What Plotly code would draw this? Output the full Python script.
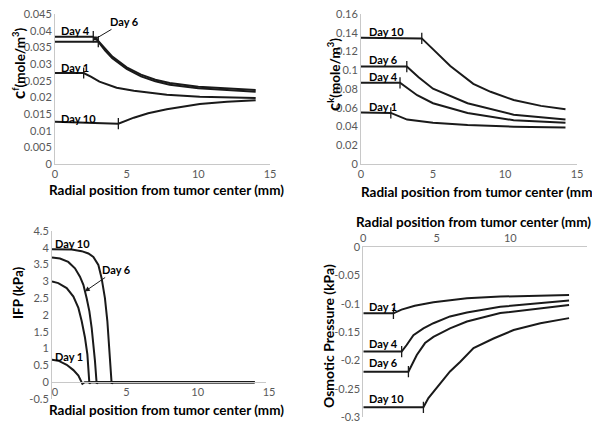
import plotly.graph_objects as go

# ---------------- data ----------------
days = ["Day 1", "Day 4", "Day 6", "Day 10"]

# Panel A: c^f (mole/m^3)
cf_x = {
    "Day 1": [0, 2.0, 2.5, 3.1, 4.3, 5.5, 7.8, 10.1, 14.0],
    "Day 4": [0, 2.67, 3.0, 3.5, 4.0, 5.0, 6.0, 7.0, 8.0, 10.0, 12.0, 14.0],
    "Day 6": [0, 3.02, 3.5, 4.0, 5.0, 6.0, 7.0, 8.0, 10.0, 12.0, 14.0],
    "Day 10": [0, 4.42, 5.5, 6.5, 7.8, 10.1, 12.0, 14.0],
}
cf_y = {
    "Day 1": [0.0273, 0.0273, 0.0262, 0.0247, 0.0229, 0.0220, 0.0208, 0.0202, 0.0198],
    "Day 4": [0.0382, 0.0382, 0.0370, 0.0345, 0.0322, 0.0290, 0.0268, 0.0253, 0.0243, 0.0232, 0.0226, 0.0222],
    "Day 6": [0.0367, 0.0367, 0.0340, 0.0317, 0.0285, 0.0263, 0.0248, 0.0238, 0.0227, 0.0221, 0.0217],
    "Day 10": [0.0127, 0.0121, 0.0139, 0.0152, 0.0164, 0.0180, 0.0187, 0.0191],
}
cf_edge = {"Day 1": 2.0, "Day 4": 2.67, "Day 6": 3.02, "Day 10": 4.42}

# Panel B: c^k (mole/m^3)
ck_x = {
    "Day 1": [0, 2.07, 3.2, 5.0, 7.4, 10.6, 14.2],
    "Day 4": [0, 2.71, 3.9, 5.0, 7.4, 10.6, 14.2],
    "Day 6": [0, 3.18, 4.0, 5.0, 7.4, 10.6, 14.2],
    "Day 10": [0, 4.22, 5.03, 6.2, 7.8, 9.0, 10.6, 12.5, 14.2],
}
ck_y = {
    "Day 1": [0.0550, 0.0545, 0.0474, 0.0440, 0.0416, 0.0398, 0.0388],
    "Day 4": [0.0866, 0.0866, 0.0734, 0.0648, 0.0544, 0.0467, 0.0440],
    "Day 6": [0.1039, 0.1039, 0.0925, 0.0803, 0.0648, 0.0526, 0.0474],
    "Day 10": [0.1347, 0.1340, 0.1220, 0.1046, 0.0855, 0.0770, 0.0682, 0.0620, 0.0585],
}
ck_edge = {"Day 1": 2.07, "Day 4": 2.71, "Day 6": 3.18, "Day 10": 4.22}

# Panel C: IFP (kPa)
ifp_x = {
    "Day 1": [0, 0.44, 1.03, 1.5, 1.85, 2.03, 2.13, 2.3, 14.2],
    "Day 4": [0, 0.44, 1.03, 1.5, 1.85, 2.08, 2.31, 2.48, 2.62, 2.75, 14.2],
    "Day 6": [0, 0.56, 1.14, 1.61, 1.96, 2.2, 2.43, 2.62, 2.78, 2.9, 3.01, 3.13, 3.25, 14.2],
    "Day 10": [0, 1.38, 2.08, 2.55, 2.9, 3.25, 3.48, 3.71, 3.88, 4.02, 4.14, 4.18, 4.3, 14.2],
}
ifp_y = {
    "Day 1": [0.67, 0.64, 0.52, 0.36, 0.20, 0.05, -0.05, 0, 0],
    "Day 4": [3.0, 2.95, 2.80, 2.55, 2.21, 1.82, 1.33, 0.83, -0.04, 0, 0],
    "Day 6": [3.71, 3.68, 3.58, 3.39, 3.14, 2.90, 2.50, 2.11, 1.62, 1.13, 0.64, -0.04, 0, 0],
    "Day 10": [3.96, 3.95, 3.90, 3.83, 3.73, 3.49, 3.09, 2.50, 1.82, 1.03, 0.34, -0.04, 0, 0],
}

# Panel D: Osmotic pressure (kPa)
op_x = {
    "Day 1": [0, 2.05, 2.6, 3.5, 4.77, 7.05, 9.32, 14.0],
    "Day 4": [0, 2.61, 2.95, 3.41, 4.09, 4.77, 5.9, 7.05, 9.32, 11.6, 14.0],
    "Day 6": [0, 3.07, 3.41, 3.64, 4.2, 4.77, 5.9, 7.05, 9.32, 11.6, 14.0],
    "Day 10": [0, 4.09, 4.43, 4.77, 5.34, 5.9, 6.6, 7.5, 8.86, 10.23, 12.05, 14.0],
}
op_y = {
    "Day 1": [-0.1165, -0.1165, -0.110, -0.103, -0.097, -0.090, -0.087, -0.084],
    "Day 4": [-0.1841, -0.1841, -0.1724, -0.155, -0.143, -0.134, -0.122, -0.115, -0.105, -0.099, -0.094],
    "Day 6": [-0.2194, -0.2194, -0.202, -0.190, -0.169, -0.158, -0.143, -0.131, -0.116, -0.109, -0.102],
    "Day 10": [-0.2824, -0.2824, -0.266, -0.255, -0.237, -0.219, -0.202, -0.178, -0.161, -0.146, -0.134, -0.125],
}
op_edge = {"Day 1": 2.05, "Day 4": 2.61, "Day 6": 3.07, "Day 10": 4.09}

x_title = "Radial position from tumor center (mm)"
cf_ticks = [0, 0.005, 0.01, 0.015, 0.02, 0.025, 0.03, 0.035, 0.04, 0.045]
cf_ticktext = ["0", "0.005", "0.01", "0.015", "0.02", "0.025", "0.03", "0.035", "0.04", "0.045"]
ck_ticks = [0, 0.02, 0.04, 0.06, 0.08, 0.1, 0.12, 0.14, 0.16]
ck_ticktext = ["0", "0.02", "0.04", "0.06", "0.08", "0.1", "0.12", "0.14", "0.16"]
ifp_ticks = [-0.5, 0, 0.5, 1, 1.5, 2, 2.5, 3, 3.5, 4, 4.5]
ifp_ticktext = ["-0.5", "0", "0.5", "1", "1.5", "2", "2.5", "3", "3.5", "4", "4.5"]
op_ticks = [0, -0.05, -0.1, -0.15, -0.2, -0.25, -0.3]
op_ticktext = ["0", "-0.05", "-0.1", "-0.15", "-0.2", "-0.25", "-0.3"]
x_ticks = [0, 5, 10, 15]
op_xticks = [0, 5, 10]

# ---------------- figure ----------------
LINE = "#1a1a1a"
FONT = "Lato"
TICKC = "#595959"
AXC = "#c8c8c8"

fig = go.Figure()


def add_panel(xs, ys, edges, xa, ya):
    for d in days:
        fig.add_trace(go.Scatter(x=xs[d], y=ys[d], mode="lines", xaxis=xa, yaxis=ya,
                                 line=dict(color=LINE, width=2), showlegend=False, hoverinfo="skip"))
        if edges is not None:
            i = xs[d].index(edges[d])
            fig.add_trace(go.Scatter(x=[xs[d][i]], y=[ys[d][i]], mode="markers", xaxis=xa, yaxis=ya,
                                     marker=dict(symbol="line-ns-open", size=8, color=LINE,
                                                 line=dict(color=LINE, width=1.3)),
                                     showlegend=False, hoverinfo="skip"))


add_panel(cf_x, cf_y, cf_edge, "x", "y")
add_panel(ck_x, ck_y, ck_edge, "x2", "y2")
add_panel(ifp_x, ifp_y, None, "x3", "y3")
add_panel(op_x, op_y, op_edge, "x4", "y4")

# the page has an 8px body margin: the figure starts at (8, 8) and runs to the window edges
OFF = 8
W, H = 600 - OFF, 429 - OFF


def px(v):
    return (v - OFF) / W


def py(v):
    return 1 - (v - OFF) / H


tickfont = dict(family=FONT, size=11, color=TICKC)
common_x = dict(showgrid=False, zeroline=False, showline=True, linecolor=AXC, linewidth=1,
                ticks="", tickfont=tickfont, fixedrange=True, automargin=False,
                ticklabeloverflow="allow")
common_y = dict(showgrid=False, zeroline=False, showline=True, linecolor=AXC, linewidth=1,
                ticks="", tickfont=tickfont, fixedrange=True, automargin=False,
                ticklabeloverflow="allow")

ifp_domain = [py(399), py(231)]
ifp_zero_pos = ifp_domain[0] + (0 - (-0.5)) / 5.0 * (ifp_domain[1] - ifp_domain[0])

fig.update_layout(
    width=W, height=H, margin=dict(l=0, r=0, t=0, b=0, autoexpand=False),
    paper_bgcolor="white", plot_bgcolor="white",
    font=dict(family=FONT, color="#000000"),
    xaxis=dict(common_x, domain=[px(55), px(270)], range=[0, 15], tickvals=x_ticks, anchor="y"),
    yaxis=dict(common_y, domain=[py(164), py(14)], range=[0, 0.045], tickvals=cf_ticks,
               ticktext=cf_ticktext, anchor="x"),
    xaxis2=dict(common_x, domain=[px(361), px(577)], range=[0, 15], tickvals=x_ticks, anchor="y2"),
    yaxis2=dict(common_y, domain=[py(164), py(14)], range=[0, 0.16], tickvals=ck_ticks,
                ticktext=ck_ticktext, anchor="x2"),
    xaxis3=dict(common_x, domain=[px(52), px(266)], range=[0, 15], tickvals=x_ticks,
                anchor="free", position=ifp_zero_pos, ticklabelshift=3),
    yaxis3=dict(common_y, domain=ifp_domain, range=[-0.5, 4.5], tickvals=ifp_ticks,
                ticktext=ifp_ticktext, anchor="x3"),
    xaxis4=dict(common_x, domain=[px(363.3), px(586.7)], range=[0, 15.2], tickvals=op_xticks,
                side="top", anchor="y4"),
    yaxis4=dict(common_y, domain=[py(417.3), py(247.3)], range=[-0.3, 0], tickvals=op_ticks,
                ticktext=op_ticktext, anchor="x4"),
)

ann = []
lab_font = dict(family=FONT, size=11, color="#000000")


def lab(text, x, y, xr, yr):
    ann.append(dict(text="<b>%s</b>" % text, x=x, y=y, xref=xr, yref=yr, showarrow=False,
                    xanchor="left", yanchor="middle", font=lab_font))


def arrow_lab(text, x, y, xr, yr, ax, ay):
    ann.append(dict(text="<b>%s</b>" % text, x=x, y=y, xref=xr, yref=yr, showarrow=True,
                    ax=ax, ay=ay, arrowhead=2, arrowsize=1, arrowwidth=1, arrowcolor=LINE,
                    font=lab_font))


def ptitle(text, x, y, angle=0, size=13.5):
    ann.append(dict(text="<b>%s</b>" % text, x=px(x), y=py(y), xref="paper", yref="paper",
                    showarrow=False, xanchor="center", yanchor="middle", textangle=angle,
                    font=dict(family=FONT, size=size, color="#000000")))


# Panel A labels
lab("Day 4", 0.28, 0.0400, "x", "y")
lab("Day 1", 0.28, 0.0291, "x", "y")
lab("Day 10", 0.28, 0.0138, "x", "y")
arrow_lab("Day 6", 2.65, 0.0371, "x", "y", 32, -19)
# Panel B labels
lab("Day 10", 0.42, 0.1413, "x2", "y2")
lab("Day 6", 0.42, 0.1112, "x2", "y2")
lab("Day 4", 0.42, 0.0935, "x2", "y2")
lab("Day 1", 0.42, 0.0613, "x2", "y2")
# Panel C labels
lab("Day 10", 0.07, 4.14, "x3", "y3")
lab("Day 4", -0.2, 3.10, "x3", "y3")
lab("Day 1", 0.07, 0.756, "x3", "y3")
arrow_lab("Day 6", 2.3, 2.7, "x3", "y3", 32, -22)
# Panel D labels
lab("Day 1", 0.25, -0.1036, "x4", "y4")
lab("Day 4", 0.25, -0.169, "x4", "y4")
lab("Day 6", 0.25, -0.204, "x4", "y4")
lab("Day 10", 0.25, -0.266, "x4", "y4")

# axis titles
ptitle(x_title, 166, 190)
ptitle(x_title, 478, 192)
ptitle(x_title, 166, 410)
ptitle(x_title, 473, 222)
ptitle("<span style='font-size:17px'>c</span><sup>f</sup>(mole/m<sup>3</sup>)", 19, 63, -90, 13.5)
ptitle("<span style='font-size:17px'>c</span><sup>k</sup>(mole/m<sup>3</sup>)", 334, 75, -90, 13.5)
ptitle("IFP (kPa)", 18, 293, -90, 13.5)
ptitle("Osmotic Pressure (kPa)", 328, 336, -90, 14)

fig.update_layout(annotations=ann)

fig.write_html("out.html")
